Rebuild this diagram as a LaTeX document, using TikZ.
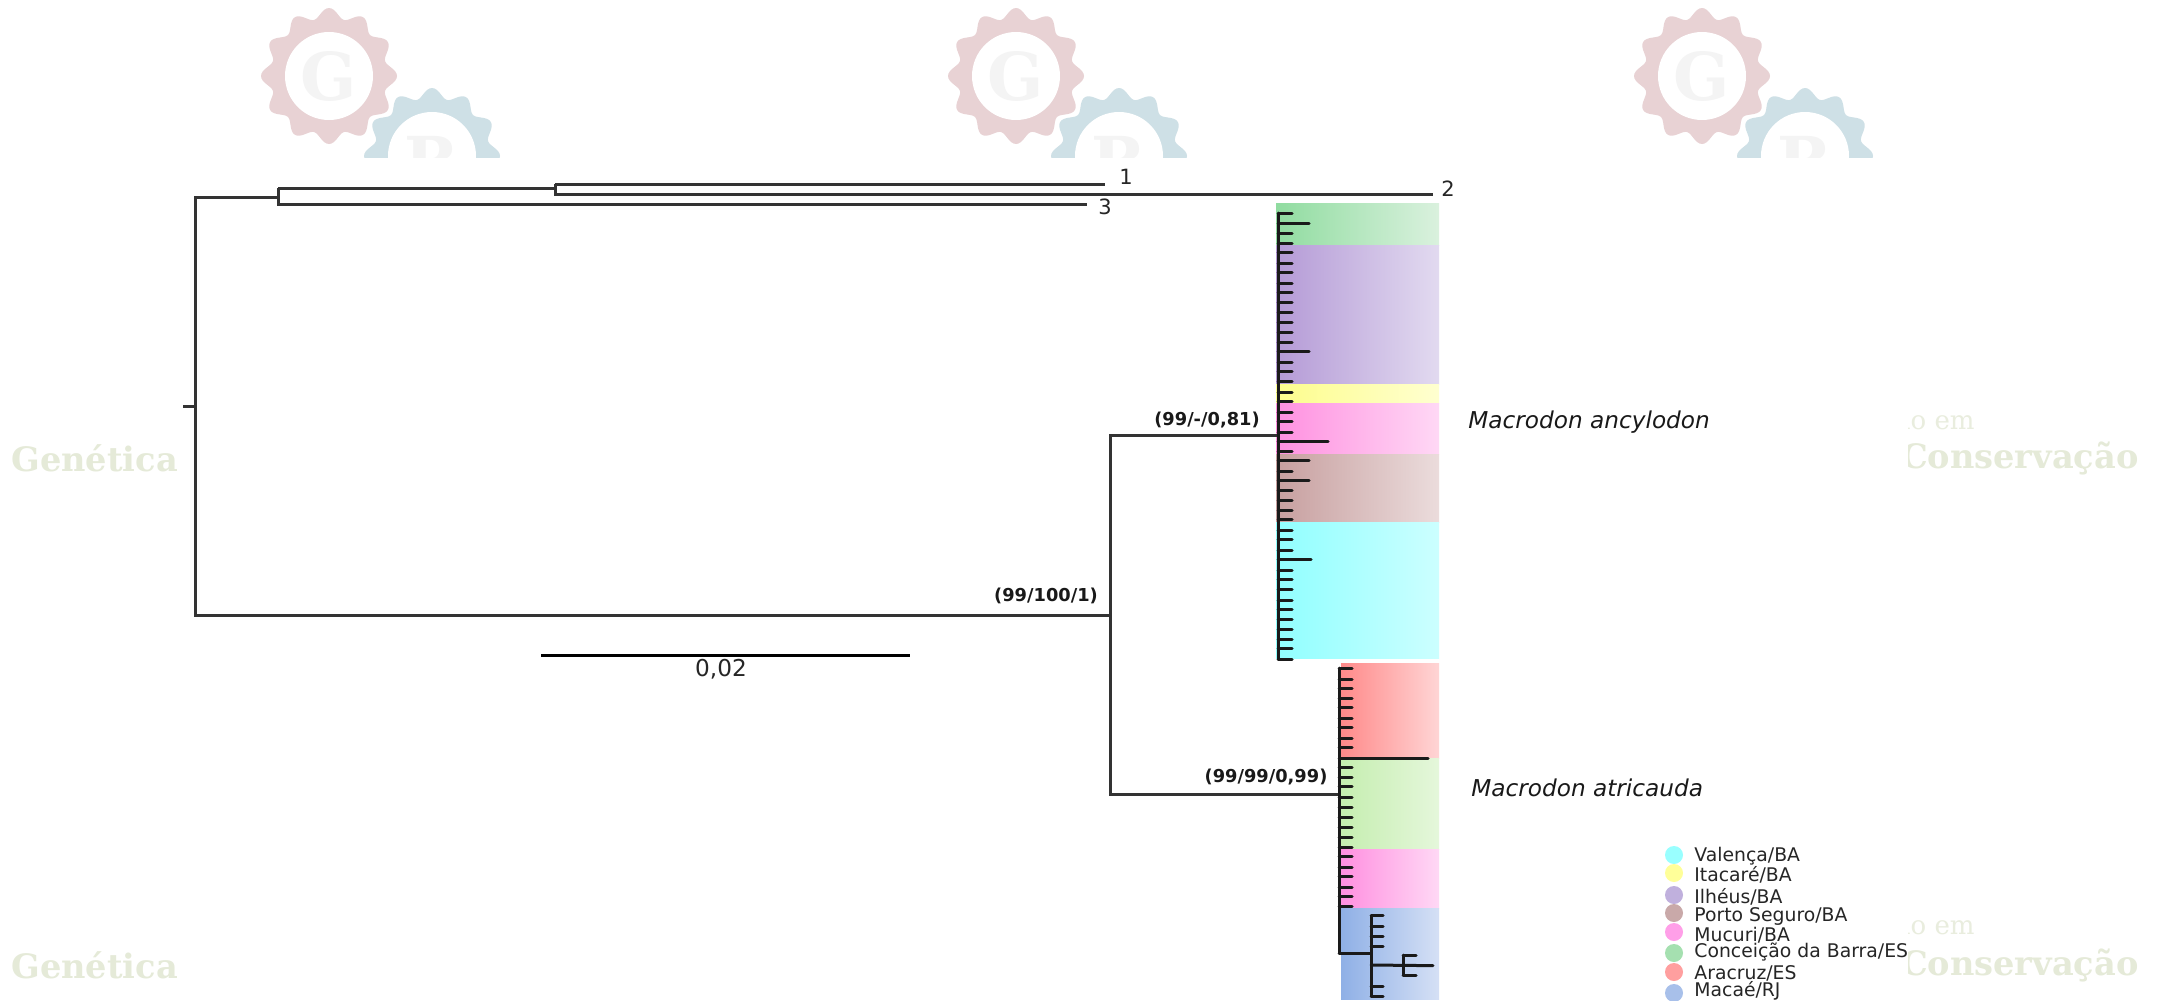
\documentclass[tikz,border=0pt]{standalone}
\usepackage{fontspec}
\setmainfont{DejaVu Sans}
\newfontfamily\wmfont{DejaVu Serif}
\definecolor{wmgreen}{HTML}{E5EAD8}
\definecolor{gearred}{HTML}{E8D2D4}
\definecolor{gearblue}{HTML}{CEE0E6}
\definecolor{wmletter}{HTML}{F4F4F4}
\definecolor{treeline}{HTML}{333333}
\definecolor{combline}{HTML}{1A1A1A}
\tikzset{
  branch/.style={draw=treeline,line width=1.5pt,line join=miter},
  comb/.style={draw=combline,line width=1.5pt,line cap=round},
  band/.style={shading=axis,shading angle=90,draw=none},
  wmtext/.style={font=\wmfont\bfseries\fontsize{16.8}{20}\selectfont,text=wmgreen,inner sep=0pt},
  wmsmall/.style={font=\wmfont\fontsize{13}{15}\selectfont,text=wmgreen!85!white,inner sep=0pt},
  support/.style={font=\bfseries\fontsize{8.9}{10}\selectfont,inner sep=0pt,text=black!90},
  species/.style={font=\itshape\fontsize{11.6}{14}\selectfont,inner sep=0pt,anchor=west,text=black!90},
  tiplabel/.style={font=\fontsize{10.5}{12}\selectfont,inner sep=0pt,text=black!85},
  legtext/.style={font=\fontsize{9.4}{11}\selectfont,inner sep=0pt,anchor=west,text=black!85},
  legdot/.style={circle,minimum size=9pt,inner sep=0pt,draw=none},
}
\newcommand{\geartrail}[3]{%
  \fill[#3] plot[domain=0:360,samples=181] ({#1+(63+5*cos(12*\x))*cos(\x)},{#2+(63+5*cos(12*\x))*sin(\x)}) -- cycle;
}
\begin{document}
\begin{tikzpicture}[x=0.5pt,y=-0.5pt]
\useasboundingbox (0,0) rectangle (2158,1001);
\fill[white] (0,0) rectangle (2158,1001);

% watermark logos
\foreach \ox/\n in {0/a,687/b,1373/c}{
  \begin{scope}[xshift=\ox*0.5pt]
    \geartrail{329}{76}{gearred}
    \fill[white] (329,76) circle[radius=44];
    \node[font=\wmfont\bfseries\fontsize{33}{36}\selectfont,text=wmletter,inner sep=0pt] (gletter\n) at (329,76) {G};
    \begin{scope}
      \clip (300,80) rectangle (560,157);
      \fill[white] plot[domain=0:360,samples=181] ({432+(66+5*cos(12*\x))*cos(\x)},{156+(66+5*cos(12*\x))*sin(\x)}) -- cycle;
      \geartrail{432}{156}{gearblue}
      \fill[white] (432,156) circle[radius=44];
      \node[font=\wmfont\bfseries\fontsize{33}{36}\selectfont,text=wmletter,inner sep=0pt] (rletter\n) at (432,160) {R};
    \end{scope}
  \end{scope}
}

% watermark words
\node[wmtext,anchor=west] (gen1) at (11,458) {Genética};
\node[wmtext,anchor=west] (gen2) at (11,965) {Genética};
\begin{scope}
  \clip (1908,380) rectangle (2158,1001);
  \node[wmsmall,anchor=east] (em1) at (1975,420) {ão em};
  \node[wmsmall,anchor=east] (em2) at (1975,925) {ão em};
  \node[wmtext,anchor=east] (con1) at (2139,458) {Conservação};
  \node[wmtext,anchor=east] (con2) at (2139,965) {Conservação};
\end{scope}

% coloured bands, Macrodon ancylodon
\shade[band,left color={rgb,255:red,144;green,220;blue,160},right color={rgb,255:red,218;green,241;blue,222}] (1276,203) rectangle (1439,245);
\shade[band,left color={rgb,255:red,180;green,154;blue,214},right color={rgb,255:red,226;green,218;blue,240}] (1276,245) rectangle (1439,384);
\shade[band,left color={rgb,255:red,253;green,253;blue,140},right color={rgb,255:red,255;green,255;blue,208}] (1276,384) rectangle (1439,403);
\shade[band,left color={rgb,255:red,255;green,144;blue,224},right color={rgb,255:red,255;green,216;blue,245}] (1276,403) rectangle (1439,454);
\shade[band,left color={rgb,255:red,199;green,159;blue,159},right color={rgb,255:red,235;green,220;blue,220}] (1276,454) rectangle (1439,522);
\shade[band,left color={rgb,255:red,144;green,255;blue,255},right color={rgb,255:red,204;green,255;blue,255}] (1276,522) rectangle (1439,658);
% coloured bands, Macrodon atricauda
\shade[band,left color={rgb,255:red,255;green,138;blue,138},right color={rgb,255:red,255;green,213;blue,213}] (1341,663) rectangle (1439,758);
\shade[band,left color={rgb,255:red,197;green,238;blue,176},right color={rgb,255:red,229;green,247;blue,219}] (1341,758) rectangle (1439,849);
\shade[band,left color={rgb,255:red,255;green,144;blue,224},right color={rgb,255:red,255;green,216;blue,245}] (1341,849) rectangle (1439,908);
\shade[band,left color={rgb,255:red,143;green,176;blue,230},right color={rgb,255:red,213;green,224;blue,245}] (1341,908) rectangle (1439,999);

% main tree junctions and tips
\coordinate (stub) at (183,406);
\coordinate (rootv) at (195,406);
\coordinate (nA) at (278,197);
\coordinate (nB) at (555,188);
\coordinate (nC) at (1110,615);
\coordinate (nAnc) at (1278,435);
\coordinate (nAtr) at (1339,794);
\coordinate (t1) at (1105,184);
\coordinate (t2) at (1433,194);
\coordinate (t3) at (1087,204);
\coordinate (nMac) at (1371,953);
\coordinate (nSub) at (1403,965);

\draw[branch] (stub) -- (rootv);
\draw[branch] (nA) -| (rootv) |- (nC);
\draw[branch] (nB |- t1) -- (t1);
\draw[branch] (t1 -| nB) -- (t2 -| nB) -- (t2);
\draw[branch] (nA |- nB) -- (nB);
\draw[branch] (nA |- nB) -- (nA |- t3) -- (t3);
\draw[branch] (nAnc) -| (nC) |- (nAtr);

% ancylodon comb
\draw[comb] (1278,213) -- (1278,659);
\foreach \v in {100,160,190,218,250,278,310,338,368,396,428,456,487,546,574,605,636,664}
  \draw[comb] (1278,{180+\v/3}) -- (1292,{180+\v/3});
\foreach \v in {131,515}
  \draw[comb] (1278,{180+\v/3}) -- (1309,{180+\v/3});
\foreach \v in {36,64,96,155,214,272,300,332,359,392,419,451,510,537,569,600,628,659,687,719,746,778}
  \draw[comb] (1278,{400+\v/3}) -- (1292,{400+\v/3});
\foreach \v in {182,241}
  \draw[comb] (1278,{400+\v/3}) -- (1309,{400+\v/3});
\draw[comb] (1278,{400+478/3}) -- (1311,{400+478/3});
\draw[comb] (1278,{400+123/3}) -- (1328,{400+123/3});

% atricauda comb
\draw[comb] (1339,668) -- (1339,953);
\foreach \v in {55,88,115,146,173,205,233,265,292,352,383,410,442,473,501,532,561,592,620,651,679,711,738,770}
  \draw[comb] (1339,{650+\v/3}) -- (1352,{650+\v/3});
\draw[comb] (1339,{650+325/3}) -- (1428,{650+325/3});
\draw[comb] (1339,953) -- (nMac);
\draw[comb] (1371,916) -- (1371,996);
\foreach \v in {797,828,858,888,1008,1038}
  \draw[comb] (1371,{650+\v/3}) -- (1383,{650+\v/3});
\draw[comb] (nMac |- nSub) -- (1433,{650+947/3});
\draw[comb] (1403,955) -- (1403,975);
\draw[comb] (1403,955) -- (1416,955);
\draw[comb] (1403,975) -- (1416,975);

% tip labels
\node[tiplabel] (lab1) at (1126,177) {1};
\node[tiplabel] (lab2) at (1448,189) {2};
\node[tiplabel] (lab3) at (1105,207) {3};

% support values
\node[support] (s1) at (1207,420) {(99/-/0,81)};
\node[support] (s2) at (1046,596) {(99/100/1)};
\node[support] (s3) at (1266,777) {(99/99/0,99)};

% species
\node[species] (sp1) at (1468,422) {Macrodon ancylodon};
\node[species] (sp2) at (1471,788) {Macrodon atricauda};

% scale bar
\coordinate (sb1) at (541,655);
\coordinate (sb2) at (910,655);
\draw[draw=black,line width=1.5pt] (sb1) -- (sb2);
\node[font=\fontsize{11.6}{13}\selectfont,inner sep=0pt,text=black!85] (sblab) at (721,669) {0,02};

% legend
\foreach \cy/\ty/\c/\t/\n in {
  855/856/99FFFF/{Valença/BA}/a,
  873/875/FFFF99/{Itacaré/BA}/b,
  895/897/C0B0DD/{Ilhéus/BA}/c,
  913/916/C9A9A9/{Porto Seguro/BA}/d,
  932/935/FF9FE8/{Mucuri/BA}/e,
  953/952/A5E0B0/{Conceição da Barra/ES}/f,
  972/973/FF9F9F/{Aracruz/ES}/g,
  993/991/A8C0EA/{Macaé/RJ}/h}{
  \definecolor{legc}{HTML}{\c}
  \node[legdot,fill=legc] (dot\n) at (1674,\cy) {};
  \node[legtext] (leg\n) at (1694,\ty) {\t};
}
\end{tikzpicture}
\end{document}
